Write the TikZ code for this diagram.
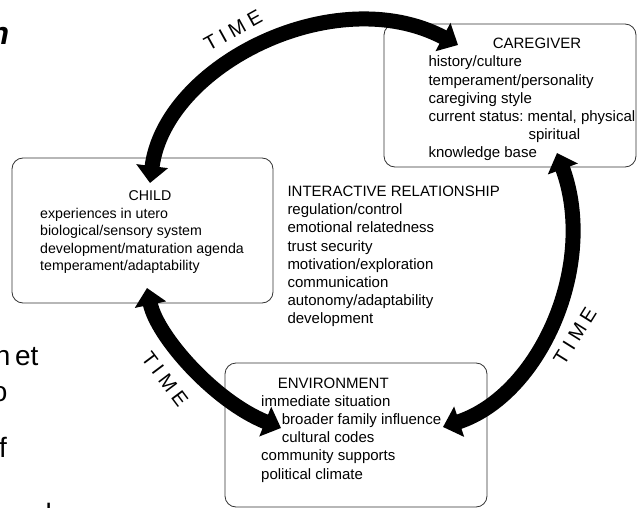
\documentclass[tikz,border=0pt]{standalone}
\usepackage{fontspec}
\setmainfont{Liberation Sans}
\usetikzlibrary{arrows.meta}

% letter-spaced label set along each arc
\newcommand\timeword{T\kern5pt I\kern5pt M\kern5pt E}

\begin{document}
\frenchspacing
\begin{tikzpicture}[x=1pt,y=-1pt,
  panel/.style={draw=black!80, line width=0.8pt, rounded corners=11pt, fill=white, inner sep=0pt},
  body/.style={anchor=base west, inner sep=0pt, font=\fontsize{15}{18.2}\selectfont},
  title/.style={anchor=base, inner sep=0pt, font=\fontsize{15}{18.2}\selectfont},
  childtext/.style={inner sep=0pt, font=\fontsize{14.2}{17.5}\selectfont},
  timearrow/.style={line width=15pt, black,
    {Triangle[width=31pt,length=17pt]}-{Triangle[width=31pt,length=17pt]}},
  timelabel/.style={inner sep=0pt, font=\fontsize{20}{20}\selectfont},
  frag/.style={anchor=base west, inner sep=0pt, font=\fontsize{28}{28}\selectfont}
]
\useasboundingbox (0,0) rectangle (637,508);
\fill[white] (0,0) rectangle (637,508);

% partial words of the surrounding page, cut by the left edge
\node[frag, font=\fontsize{32}{32}\selectfont\bfseries\itshape] (fragA) at (-10.6,45) {n};
\node[frag] (fragB) at (-5.4,365) {n\hspace{4.7pt}et};
\node[frag] (fragC) at (-8.3,401) {o};
\node[frag] (fragD) at (-1,457) {f};
\node[frag] (fragE) at (45.4,523) {l};

% the three panels
\node[panel, minimum width=261pt, minimum height=145pt] (child) at (142.5,230.5) {};
\node[panel, minimum width=252pt, minimum height=143pt] (caregiver) at (510,95.5) {};
\node[panel, minimum width=262pt, minimum height=144pt] (environment) at (356,435) {};

% arrow ends inside the panels
\coordinate (childTop) at (150,183);
\coordinate (careLeft) at (458,45);
\coordinate (careBottom) at (557,153);
\coordinate (envRight) at (443,427);
\coordinate (childBottom) at (147,288);
\coordinate (envLeft) at (281,428);

% TIME arrows
\draw[timearrow] (childTop) .. controls (165,65) and (335,-20) .. (careLeft);
\draw[timearrow] (careBottom) .. controls (598,265) and (540,395) .. (envRight);
\draw[timearrow] (childBottom) .. controls (157,336) and (214,401) .. (envLeft);

\node[timelabel, rotate=29] (timeTop) at (233,30.5) {\timeword};
\node[timelabel, rotate=-53] (timeLeft) at (165,379) {\timeword};
\node[timelabel, rotate=58] (timeRight) at (575,336) {\timeword};

% caregiver
\node[title] (careTitle) at (537,48.3) {CAREGIVER};
\node[body] (careList) at (428.3,67) {\begin{tabular}[t]{@{}l@{}}
history/culture\\
temperament/personality\\
caregiving style\\
current status: mental, physical\\
\hspace*{100pt}spiritual\\
knowledge base
\end{tabular}};

% child
\node[childtext, anchor=base] (childTitle) at (150,200) {CHILD};
\node[childtext, anchor=base west] (childList) at (40,218) {\begin{tabular}[t]{@{}l@{}}
experiences in utero\\
biological/sensory system\\
development/maturation agenda\\
temperament/adaptability
\end{tabular}};

% interactive relationship
\node[body] (relList) at (287.3,196.5) {\begin{tabular}[t]{@{}l@{}}
INTERACTIVE RELATIONSHIP\\
regulation/control\\
emotional relatedness\\
trust security\\
motivation/exploration\\
communication\\
autonomy/adaptability\\
development
\end{tabular}};

% environment
\node[body] (envList) at (261,388) {\begin{tabular}[t]{@{}l@{}}
\hspace*{16.7pt}ENVIRONMENT\\
immediate situation\\
\hspace*{20.7pt}broader family influence\\
\hspace*{20.7pt}cultural codes\\
community supports\\
political climate
\end{tabular}};
\end{tikzpicture}
\end{document}
